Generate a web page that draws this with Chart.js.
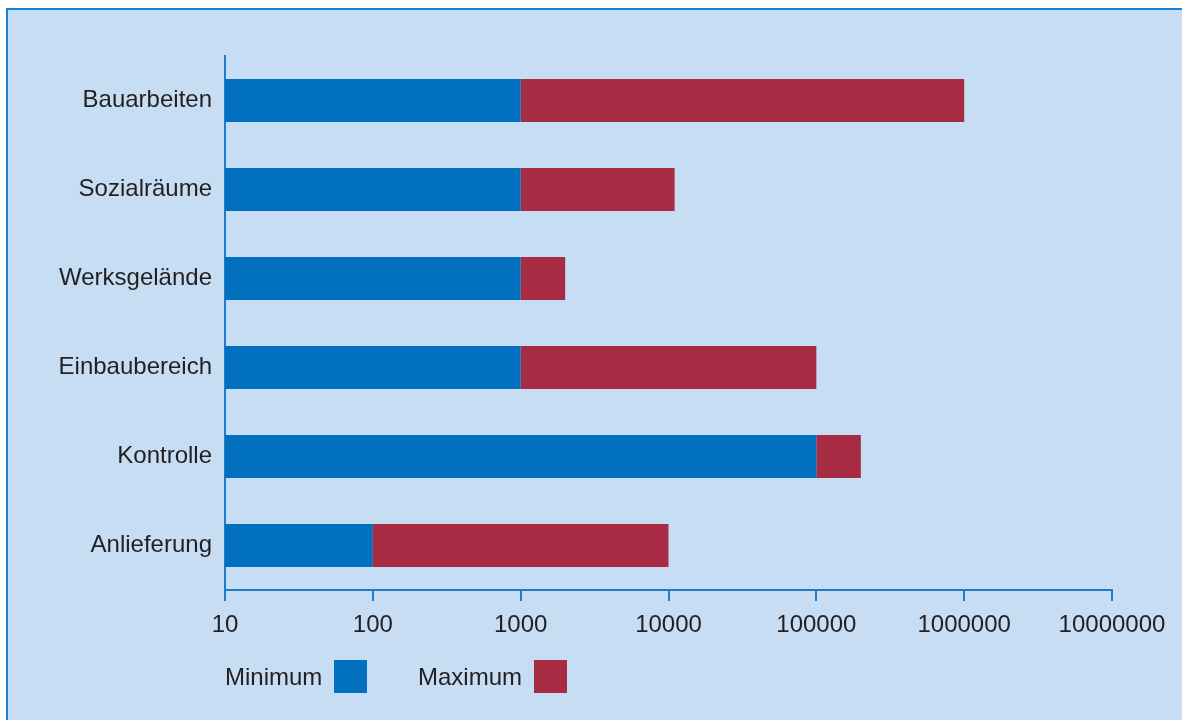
<!DOCTYPE html>
<html lang="de">
<head>
    <meta charset="UTF-8">
    <title>Minimum / Maximum</title>
    <script src="https://cdn.jsdelivr.net/npm/chart.js"></script>
    <style>
        html, body { margin: 0; padding: 0; background: #ffffff; }
        #frame {
            position: absolute; left: 6px; top: 8px; width: 1176px; height: 712px;
            background: #c6ddf3; border-left: 2px solid #1b7fd1; border-top: 2px solid #1b7fd1;
            box-sizing: border-box;
        }
        #chart { position: absolute; left: 0; top: 0; }
        .leg {
            position: absolute; font-family: "Liberation Sans", Arial, sans-serif;
            font-size: 24px; color: #231f20; line-height: 34px; height: 34px; top: 660px;
        }
        .box { position: absolute; width: 33px; height: 33px; top: 660px; }
    </style>
</head>
<body>
<div id="frame"></div>
<canvas id="chart" width="1182" height="720"></canvas>
<div class="leg" style="left:225px">Minimum</div>
<div class="box" style="left:334px;background:#0070bf"></div>
<div class="leg" style="left:418px">Maximum</div>
<div class="box" style="left:534px;background:#a62b43"></div>

<script>
    // values (log scale)
    const categories = ['Bauarbeiten', 'Sozialräume', 'Werksgelände', 'Einbaubereich', 'Kontrolle', 'Anlieferung'];
    const minimum = [1000, 1000, 1000, 1000, 100000, 100];
    const maximum = [1000000, 11000, 2000, 100000, 200000, 10000];
    const axisTicks = [10, 100, 1000, 10000, 100000, 1000000, 10000000];

    const axisBlue = '#1f7ccb';
    const textColor = '#231f20';
    const font = { family: '"Liberation Sans", Arial, sans-serif', size: 24 };

    const minBars = minimum.map(v => [axisTicks[0], v]);
    const maxBars = maximum.map((v, i) => [minimum[i], v]);

    const ctx = document.getElementById('chart').getContext('2d');
    new Chart(ctx, {
        type: 'bar',
        data: {
            labels: categories,
            datasets: [
                { label: 'Minimum', data: minBars, backgroundColor: '#0070bf', grouped: false },
                { label: 'Maximum', data: maxBars, backgroundColor: '#a62b43', grouped: false }
            ]
        },
        options: {
            indexAxis: 'y',
            responsive: false,
            animation: false,
            layout: { padding: { top: 56, right: 70, left: 0, bottom: 0 } },
            datasets: { bar: { categoryPercentage: 1, barPercentage: 0.483 } },
            plugins: { legend: { display: false }, tooltip: { enabled: false } },
            scales: {
                x: {
                    type: 'logarithmic',
                    min: 10,
                    max: 10000000,
                    afterBuildTicks: scale => { scale.ticks = axisTicks.map(v => ({ value: v })); },
                    afterFit: scale => { scale.height = 130; },
                    ticks: {
                        color: textColor,
                        font: font,
                        padding: 10,
                        maxRotation: 0,
                        autoSkip: false,
                        callback: v => String(v)
                    },
                    grid: { drawOnChartArea: false, color: axisBlue, lineWidth: 2, tickLength: 11 },
                    border: { color: axisBlue, width: 2 }
                },
                y: {
                    afterFit: scale => { scale.width = 225; },
                    ticks: { color: textColor, font: font, padding: 5 },
                    grid: { display: false },
                    border: { color: axisBlue, width: 2 }
                }
            }
        }
    });
</script>
</body>
</html>
